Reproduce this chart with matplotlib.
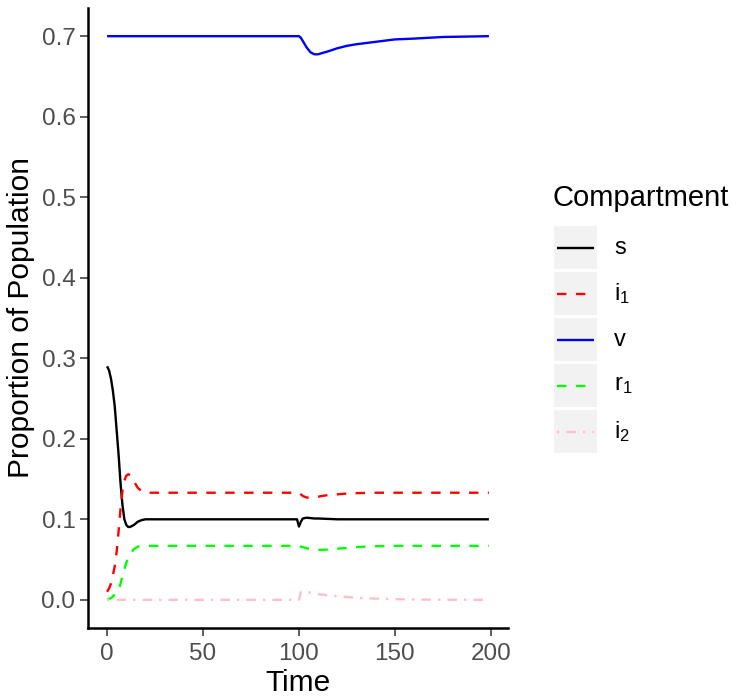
import matplotlib
matplotlib.use("Agg")
import matplotlib.pyplot as plt
from matplotlib.patches import Rectangle
from matplotlib.lines import Line2D

plt.rcParams['font.family'] = ['Liberation Sans', 'DejaVu Sans']
plt.rcParams['mathtext.fontset'] = 'custom'
plt.rcParams['mathtext.rm'] = 'Liberation Sans'

# time points (days)
t = [0, 1, 2, 3, 4, 5, 6, 7, 8, 9, 10, 11, 12, 14, 16, 18, 20, 30, 60, 99,
     100, 101, 102, 104, 106, 108, 110, 112, 115, 120, 125, 130, 140, 150, 160, 175, 199]

s = [0.29, 0.285, 0.275, 0.26, 0.24, 0.21, 0.18, 0.145, 0.118, 0.1, 0.093, 0.0905, 0.0905,
     0.093, 0.097, 0.099, 0.1, 0.1, 0.1, 0.1,
     0.091, 0.097, 0.101, 0.102, 0.1015, 0.101, 0.101, 0.1008, 0.1005, 0.1, 0.1, 0.1,
     0.1, 0.1, 0.1, 0.1, 0.1]
i1 = [0.01, 0.014, 0.02, 0.03, 0.042, 0.06, 0.085, 0.113, 0.135, 0.148, 0.154, 0.156, 0.155,
      0.147, 0.139, 0.135, 0.133, 0.133, 0.133, 0.133,
      0.133, 0.131, 0.129, 0.127, 0.127, 0.1275, 0.128, 0.129, 0.130, 0.131, 0.132, 0.1325,
      0.133, 0.133, 0.133, 0.133, 0.133]
v = [0.7] * 20 + [0.7, 0.698, 0.694, 0.686, 0.68, 0.6775, 0.6775, 0.679, 0.681, 0.685, 0.688,
                  0.690, 0.693, 0.696, 0.697, 0.699, 0.7]
r1 = [0.0, 0.001, 0.002, 0.004, 0.007, 0.011, 0.012, 0.02, 0.03, 0.038, 0.046, 0.052, 0.057,
      0.063, 0.066, 0.067, 0.067, 0.067, 0.067, 0.067,
      0.067, 0.066, 0.0655, 0.064, 0.063, 0.0625, 0.062, 0.062, 0.0625, 0.0635, 0.0645, 0.0655,
      0.0665, 0.067, 0.067, 0.067, 0.067]
i2 = [0.0] * 20 + [0.0, 0.01, 0.0098, 0.0095, 0.009, 0.008, 0.007, 0.0065, 0.0055, 0.0045,
                   0.0035, 0.0025, 0.0015, 0.0008, 0.0004, 0.0001, 0.0]

labels = ['s', r'$\mathregular{i_1}$', 'v', r'$\mathregular{r_1}$', r'$\mathregular{i_2}$']
series = [s, i1, v, r1, i2]
colors = ['black', '#FF0000', '#0000FF', '#00FF00', '#FFC0CB']
styles = [(0, ()), (0, (4, 4)), (0, ()), (0, (4, 4)), (0, (1, 3, 4, 3))]

W, H = 736, 697
fig = plt.figure(figsize=(W / 100, H / 100), dpi=100)
ax = fig.add_axes([88 / W, 1 - 628 / H, (508 - 88) / W, (628 - 8) / H])

for y, c, ls in zip(series, colors, styles):
    ax.plot(t, y, color=c, linestyle=ls, lw=1.7)

ax.set_xlim(-9.95, 208.95)
ax.set_ylim(-0.035, 0.735)
ax.set_xticks([0, 50, 100, 150, 200])
ax.set_yticks([0.0, 0.1, 0.2, 0.3, 0.4, 0.5, 0.6, 0.7])
ax.set_yticklabels(['0.0', '0.1', '0.2', '0.3', '0.4', '0.5', '0.6', '0.7'])
for sp in ['top', 'right']:
    ax.spines[sp].set_visible(False)
for sp in ['left', 'bottom']:
    ax.spines[sp].set_linewidth(1.8)
ax.tick_params(labelsize=17.5, labelcolor='#4D4D4D', length=6, width=1.1, color='#333333', pad=3)
ax.tick_params(axis='x', pad=5)
ax.set_xlabel('Time', fontsize=21.5, labelpad=3)
ax.set_ylabel('Proportion of Population', fontsize=21.5, labelpad=5)

# legend drawn by hand with ggplot-style grey key boxes
lax = fig.add_axes([0, 0, 1, 1])
lax.set_xlim(0, W)
lax.set_ylim(H, 0)
lax.axis('off')
lax.text(553, 198, 'Compartment', fontsize=21, va='center', ha='left')
for k, (lab, c, ls) in enumerate(zip(labels, colors, styles)):
    y0 = 226 + k * 46
    lax.add_patch(Rectangle((554, y0), 43, 43, color='#F2F2F2', lw=0))
    lax.add_line(Line2D([557, 594], [y0 + 21.5, y0 + 21.5], color=c, linestyle=ls, lw=1.7))
    lax.text(614, y0 + 21.5, lab, fontsize=17, va='center', ha='left')

fig.savefig('out.png', dpi=100)
